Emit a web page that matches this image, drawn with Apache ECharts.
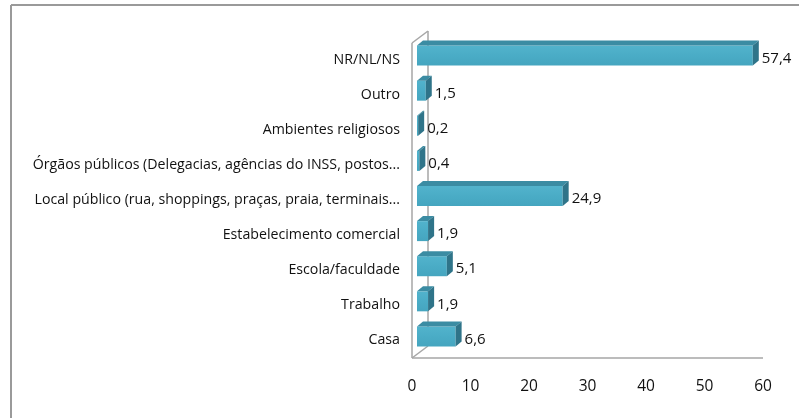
<!DOCTYPE html>
<html>
<head>
<meta charset="utf-8">
<script src="https://cdn.jsdelivr.net/npm/echarts@6/dist/echarts.min.js"></script>
<style>
html,body{margin:0;padding:0;background:#fff;}
#c{width:799px;height:418px;}
</style>
</head>
<body>
<div id="c"></div>
<script>
const categories = [
  'Casa',
  'Trabalho',
  'Escola/faculdade',
  'Estabelecimento comercial',
  'Local público (rua, shoppings, praças, praia, terminais...',
  'Órgãos públicos (Delegacias, agências do INSS, postos...',
  'Ambientes religiosos',
  'Outro',
  'NR/NL/NS'
];
const values = [6.6, 1.9, 5.1, 1.9, 24.9, 0.4, 0.2, 1.5, 57.4];
const xTicks = [0, 10, 20, 30, 40, 50, 60];

const FONT = 'Open Sans';
const chart = echarts.init(document.getElementById('c'), null, {renderer: 'canvas'});

function fmt(v) { return String(v).replace('.', ','); }

const barData = values.map((v, i) => [v, i]);

chart.setOption({
  animation: false,
  backgroundColor: '#ffffff',
  grid: {left: 412, top: 42, width: 351, height: 316, containLabel: false},
  graphic: [
    {type: 'line', shape: {x1: 11, y1: 5, x2: 799, y2: 5}, style: {stroke: '#9a9a9a', lineWidth: 2}},
    {type: 'line', shape: {x1: 11, y1: 5, x2: 11, y2: 418}, style: {stroke: '#9a9a9a', lineWidth: 2}}
  ],
  xAxis: {
    type: 'value', min: xTicks[0], max: xTicks[xTicks.length - 1], interval: 10,
    axisLine: {show: false}, axisTick: {show: false}, splitLine: {show: false},
    axisLabel: {margin: 21, color: '#111', fontFamily: FONT, fontSize: 15.5}
  },
  yAxis: {
    type: 'category', data: categories,
    axisLine: {show: false}, axisTick: {show: false}, splitLine: {show: false},
    axisLabel: {margin: 12, color: '#111', fontFamily: FONT, fontSize: 14.2}
  },
  series: [
    {
      type: 'custom',
      silent: true,
      data: [[0]],
      z: 1,
      renderItem: function (params, api) {
        const cs = params.coordSys;
        const x = cs.x, y = cs.y, b = cs.y + cs.height, r = cs.x + cs.width;
        const dx = 16, dy = -12;
        const st = {stroke: '#a6a6a6', lineWidth: 1.5};
        return {
          type: 'group',
          children: [
            {type: 'line', shape: {x1: x, y1: y + 1, x2: x, y2: b}, style: st},
            {type: 'line', shape: {x1: x + dx, y1: y + 1 + dy, x2: x + dx, y2: b + dy}, style: st},
            {type: 'line', shape: {x1: x, y1: y + 1, x2: x + dx, y2: y + 1 + dy}, style: st},
            {type: 'line', shape: {x1: x, y1: b, x2: x + dx, y2: b + dy}, style: st},
            {type: 'line', shape: {x1: x, y1: b, x2: r, y2: b}, style: st}
          ]
        };
      }
    },
    {
      type: 'custom',
      silent: true,
      data: barData,
      encode: {x: 0, y: 1},
      z: 2,
      renderItem: function (params, api) {
        const v = api.value(0), idx = api.value(1);
        const p0 = api.coord([0, idx]);
        const p1 = api.coord([v, idx]);
        const h = 20, ox = 5, oy = -4, ddx = 6, ddy = -5;
        const x = p0[0] + ox;
        const w = Math.max(p1[0] - p0[0], 0.8);
        const y = p0[1] + oy - h / 2;
        return {
          type: 'group',
          children: [
            {type: 'rect', shape: {x: x, y: y, width: w, height: h},
              style: {fill: new echarts.graphic.LinearGradient(0, 0, 0, 1, [
                {offset: 0, color: '#52b3cc'}, {offset: 0.5, color: '#4aacc6'}, {offset: 1, color: '#45a5bf'}])}},
            {type: 'polygon', shape: {points: [[x, y], [x + w, y], [x + w + ddx, y + ddy], [x + ddx, y + ddy]]},
              style: {fill: '#3b8ca3'}},
            {type: 'polygon', shape: {points: [[x + w, y], [x + w + ddx, y + ddy], [x + w + ddx, y + h + ddy], [x + w, y + h]]},
              style: {fill: '#2f7489'}},
            {type: 'text', style: {x: x + w + ddx + 3, y: p0[1] - 1, text: fmt(v),
              fill: '#111', fontFamily: FONT, fontSize: 15, verticalAlign: 'middle', align: 'left'}}
          ]
        };
      }
    }
  ]
});
</script>
</body>
</html>
